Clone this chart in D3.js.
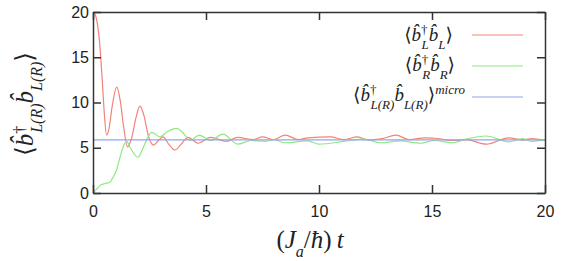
<!DOCTYPE html>
<meta charset="utf-8">
<title>b dagger b occupation</title>
<style>
body { margin: 0; background: #fff; }
.tick text { font: 16px "Liberation Sans", Arial, sans-serif; fill: #222; }
.axis path, .axis line { stroke: #333; stroke-width: 1.5px; }
.series { fill: none; stroke-width: 1.2px; }
</style>
<svg width="561" height="261"></svg>
<script src="https://cdn.jsdelivr.net/npm/d3@7"></script>
<script>

// data
var tRed = [0, 0.1, 0.2, 0.3, 0.4, 0.5, 0.6, 0.7, 0.85, 1.05, 1.2, 1.35, 1.53, 1.7, 1.9, 2.08, 2.25, 2.45, 2.68, 2.9, 3.1, 3.35, 3.63, 3.9, 4.2, 4.65, 5.2, 5.9, 6.4, 7.1, 7.5, 8.0, 8.5, 9.1, 9.5, 10.5, 11.1, 11.7, 12.2, 12.8, 13.4, 14.0, 14.7, 15.1, 16.0, 16.5, 17.4, 18.4, 19.0, 19.4, 20];
var red  = [20, 19.7, 18.6, 16.4, 12.8, 8.8, 6.4, 7.0, 9.6, 11.7, 10.3, 7.4, 5.1, 6.0, 8.3, 9.6, 8.6, 6.3, 5.3, 5.8, 6.2, 5.4, 4.75, 5.4, 6.15, 5.5, 6.15, 5.7, 6.15, 5.9, 6.2, 5.9, 6.4, 5.9, 6.1, 6.2, 5.9, 6.2, 5.85, 6.0, 6.4, 5.9, 6.1, 6.05, 5.8, 5.9, 5.4, 6.1, 5.85, 6.0, 5.8];

var tGreen = [0, 0.15, 0.35, 0.55, 0.75, 0.9, 1.05, 1.2, 1.35, 1.49, 1.65, 1.98, 2.2, 2.4, 2.6, 2.96, 3.3, 3.7, 4.0, 4.3, 4.7, 5.2, 5.75, 6.4, 7.0, 7.6, 8.0, 8.5, 9.5, 10.0, 11.1, 12.0, 12.7, 13.6, 14.5, 15.1, 15.9, 16.5, 17.4, 18.4, 19.0, 19.4, 20];
var green  = [0, 0.4, 0.9, 1.05, 1.2, 1.8, 2.6, 4.0, 5.2, 5.7, 5.0, 3.95, 4.9, 6.0, 6.7, 6.2, 6.8, 7.15, 6.6, 5.8, 6.4, 5.8, 6.5, 5.4, 5.8, 5.7, 5.9, 5.55, 5.75, 5.4, 5.7, 5.95, 5.55, 5.75, 5.5, 5.8, 5.55, 5.95, 6.3, 5.65, 6.0, 5.7, 5.9];

var microValue = 5.88;
var tRange = [0, 20];

var xTicks = [0, 5, 10, 15, 20];
var yTicks = [0, 5, 10, 15, 20];

var serif = "'Liberation Serif', 'DejaVu Serif', serif";

var svg = d3.select("svg");

var x = d3.scaleLinear().domain([0, 20]).range([93, 545]);
var y = d3.scaleLinear().domain([0, 20]).range([193, 12]);

var line = d3.line()
    .x(function(d) { return x(d[0]); })
    .y(function(d) { return y(d[1]); })
    .curve(d3.curveMonotoneX);

svg.append("path")
    .datum(d3.zip(tRed, red))
    .attr("class", "series")
    .attr("stroke", "#f4817a")
    .attr("d", line);

svg.append("path")
    .datum(d3.zip(tGreen, green))
    .attr("class", "series")
    .attr("stroke", "#8fe884")
    .attr("d", line);

svg.append("path")
    .datum(tRange.map(function(t) { return [t, microValue]; }))
    .attr("class", "series")
    .attr("stroke", "#8fa6ee")
    .attr("d", line);

// axes, ticks inward on all four sides
svg.append("g").attr("class", "axis")
    .attr("transform", "translate(0," + y(0) + ")")
    .call(d3.axisBottom(x).tickValues(xTicks).tickSizeInner(-8).tickSizeOuter(0).tickPadding(13));

svg.append("g").attr("class", "axis")
    .attr("transform", "translate(0," + y(20) + ")")
    .call(d3.axisTop(x).tickValues(xTicks).tickSizeInner(-8).tickSizeOuter(0).tickFormat(""));

svg.append("g").attr("class", "axis")
    .attr("transform", "translate(" + x(0) + ",0)")
    .call(d3.axisLeft(y).tickValues(yTicks).tickSizeInner(-8).tickSizeOuter(0).tickPadding(4));

svg.append("g").attr("class", "axis")
    .attr("transform", "translate(" + x(20) + ",0)")
    .call(d3.axisRight(y).tickValues(yTicks).tickSizeInner(-8).tickSizeOuter(0).tickFormat(""));

// math-ish text: parts = [text, shift, size, italic, dx]
function mathText(g, parts) {
  var t = g.append("text")
      .style("font-family", serif)
      .style("fill", "#222");
  parts.forEach(function(p) {
    t.append("tspan")
        .attr("baseline-shift", p[1] || null)
        .attr("dx", p[4] || null)
        .style("font-size", p[2] ? p[2] + "px" : null)
        .style("font-style", p[3] ? "italic" : "normal")
        .text(p[0]);
  });
  return t;
}

var hb = "b\u0302";

function opParts(sub, s, dx) {
  return [[hb, null, null, true], ["\u2020", "super", s], [sub, "sub", s, true, dx]];
}

// legend
var legend = [
  { color: "#f4817a", ly: 35, tx: 453, ty: 41,
    parts: [["\u27e8"]].concat(opParts("L", 13, -6), [[hb, null, null, true], ["L", "sub", 13, true], ["\u27e9"]]) },
  { color: "#8fe884", ly: 66, tx: 455, ty: 71,
    parts: [["\u27e8"]].concat(opParts("R", 13, -6), [[hb, null, null, true], ["R", "sub", 13, true], ["\u27e9"]]) },
  { color: "#8fa6ee", ly: 97, tx: 465, ty: 101,
    parts: [["\u27e8"]].concat(opParts("L(R)", 13, -6), [[hb, null, null, true], ["L(R)", "sub", 13, true], ["\u27e9"], ["micro", "super", 13, true]]) }
];

legend.forEach(function(d) {
  svg.append("line")
      .attr("x1", 472).attr("x2", 523)
      .attr("y1", d.ly).attr("y2", d.ly)
      .attr("stroke", d.color).attr("stroke-width", 1.2);
  mathText(svg, d.parts)
      .attr("x", d.tx).attr("y", d.ty)
      .attr("text-anchor", "end")
      .style("font-size", "19px");
});

// axis labels
mathText(svg, [["\u27e8"]].concat(opParts("L(R)", 16, -7), [[hb, null, null, true], ["L(R)", "sub", 16, true], ["\u27e9"]]))
    .attr("transform", "translate(33,104) rotate(-90)")
    .attr("text-anchor", "middle")
    .style("font-size", "25px");

mathText(svg, [["("], ["J", null, null, true], ["a", "sub", 16, true], ["/"], ["\u0127", null, null, true], [")\u2009"], ["t", null, null, true]])
    .attr("x", 310).attr("y", 248)
    .attr("text-anchor", "middle")
    .style("font-size", "25px");

</script>
